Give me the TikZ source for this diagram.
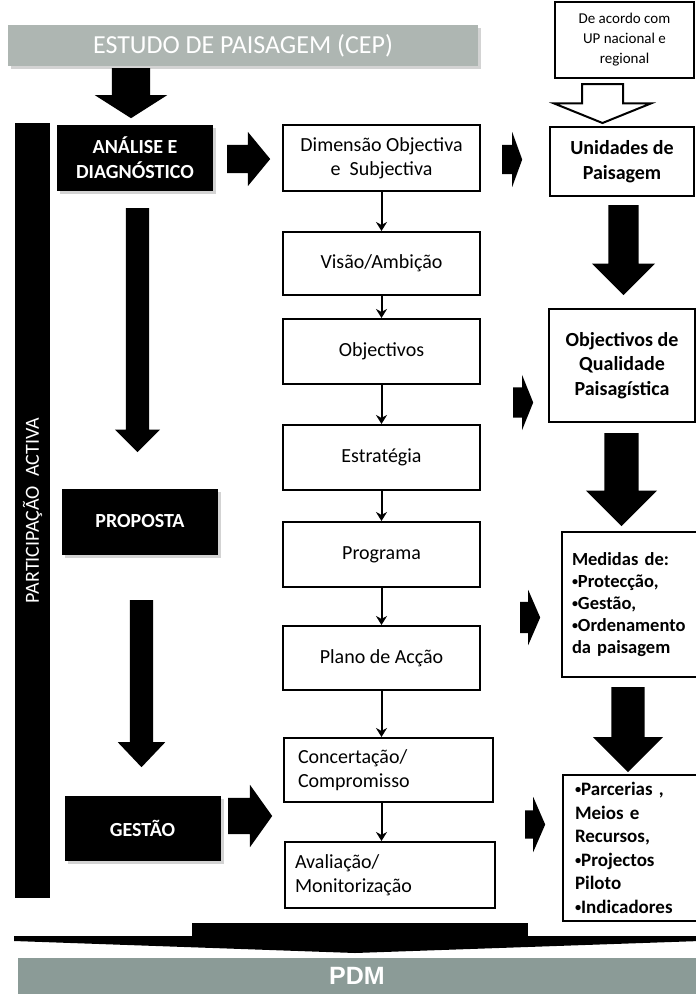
\documentclass[tikz,border=0pt]{standalone}
\usepackage{fontspec}
\setmainfont{Carlito}
\newfontfamily\pdmfont{Liberation Sans}
\usetikzlibrary{arrows.meta, positioning, shadows, shapes.arrows}
\definecolor{cepgray}{RGB}{174,182,178}
\definecolor{pdmgray}{RGB}{139,155,151}
\newcommand{\bul}{\raisebox{0.12em}{\scalebox{0.65}{•}}}

\begin{document}
\begin{tikzpicture}[
        x=1pt, y=-1pt,
        stepbox/.style={rectangle, draw=black, line width=2pt, fill=white, inner sep=0pt, align=center,
                        minimum width=197pt, font=\fontsize{20}{24}\selectfont},
        phasebox/.style={rectangle, fill=black, text=white, inner sep=0pt, align=center,
                         minimum width=156pt, minimum height=66pt, font=\bfseries\fontsize{20}{25}\selectfont,
                         drop shadow={shadow xshift=3pt, shadow yshift=-3pt, opacity=.35}},
        resultbox/.style={rectangle, draw=black, line width=2pt, fill=white, inner sep=0pt, align=center,
                          font=\bfseries\fontsize{20}{24.5}\selectfont},
        greybar/.style={rectangle, text=white, inner sep=0pt},
        blockarrow/.style 2 args={single arrow, fill=black, anchor=tail, inner xsep=0pt, inner ysep=#1,
                                  single arrow head extend=#2},
        flowarrow/.style={-{Stealth[length=9pt, width=11pt]}, line width=2pt}
    ]
        \useasboundingbox (0,0) rectangle (696,994);
        \clip (0,0) rectangle (696,994);

        % top bar and side bar
        \node [greybar, fill=cepgray, minimum width=470pt, minimum height=41pt, font=\fontsize{26}{30}\selectfont,
               drop shadow={shadow xshift=3pt, shadow yshift=-3pt, opacity=.35}] (cep) at (243,45.5) {ESTUDO DE PAISAGEM (CEP)};
        \node [fill=black, text=white, rotate=90, inner sep=0pt, minimum width=775pt, minimum height=35pt,
               font=\fontsize{20}{24}\selectfont] (partbar) at (32.5,510.5) {PARTICIPAÇÃO~ ACTIVA};
        \node [draw=black, line width=1.2pt, minimum width=139pt, minimum height=76pt, inner sep=0pt, align=center,
               font=\fontsize{15}{20}\selectfont] (upnote) at (624.5,40) {De acordo com\\UP nacional e\\regional};

        % phases
        \node [phasebox] (analise)  at (135,158)   {ANÁLISE E\\DIAGNÓSTICO};
        \node [phasebox] (proposta) at (140,521.5) {PROPOSTA};
        \node [phasebox, minimum height=65pt] (gestao) at (142.5,828) {GESTÃO};

        % steps
        \node [stepbox, minimum height=66pt] (dimensao)    at (381.5,158)   {Dimensão Objectiva\\e~ Subjectiva};
        \node [stepbox, minimum height=63pt] (visao)       at (381.5,263.5) {Visão/Ambição};
        \node [stepbox, minimum height=65pt] (objectivos)  at (381.5,351.5) {Objectivos};
        \node [stepbox, minimum height=65pt] (estrategia)  at (381.5,457.5) {Estratégia};
        \node [stepbox, minimum height=65pt] (programa)    at (381.5,554.5) {Programa};
        \node [stepbox, minimum height=64pt] (plano)       at (381.5,658)   {Plano de Acção};
        \node [stepbox, minimum width=209pt, minimum height=64pt, text width=181pt, align=left] (concertacao) at (388.5,770) {Concertação/\\Compromisso};
        \node [stepbox, minimum width=210pt, minimum height=66pt, text width=190pt, align=left] (avaliacao)   at (390,875)   {Avaliação/\\Monitorização};

        % results
        \node [resultbox, minimum width=144pt, minimum height=69pt]  (unidades)  at (622,161.5) {Unidades de\\Paisagem};
        \node [resultbox, minimum width=146pt, minimum height=113pt] (qualidade) at (622,365.5) {Objectivos de\\Qualidade\\Paisagística};
        \node [resultbox, minimum width=150pt, minimum height=145pt, text width=130pt, align=left,
               font=\bfseries\fontsize{18.5}{22}\selectfont] (medidas) at (637,604.5)
              {Medidas de:\\\bul Protecção,\\\bul Gestão,\\\bul Ordenamento\\da paisagem};
        \node [resultbox, minimum width=150pt, minimum height=146pt, text width=126pt, align=left,
               font=\bfseries\fontsize{19}{23.5}\selectfont] (parcerias) at (638,848)
              {\bul Parcerias ,\\Meios e\\Recursos,\\\bul Projectos\\Piloto\\\bul Indicadores};

        % block arrows (placed by their tails)
        \node [blockarrow={19pt}{17pt}, rotate=-90, minimum height=50pt, single arrow tip angle=115] (cepdown) at (131,68) {};
        \node [blockarrow={19.5pt}{28pt}, rotate=-90, draw=black, fill=white, line width=2pt,
               minimum height=39pt, single arrow tip angle=136] (updown) at (602.5,83) {};
        \node [blockarrow={14pt}{13pt}, minimum height=43pt, single arrow tip angle=101] (analiseright) at (227,159) {};
        \node [blockarrow={18pt}{13pt}, minimum height=44pt, single arrow tip angle=109] (gestaoright) at (228,816) {};
        \node [blockarrow={11.5pt}{11pt}, rotate=-90, minimum height=244pt, single arrow tip angle=90] (phasedown1) at (137.5,208) {};
        \node [blockarrow={11.5pt}{12pt}, rotate=-90, minimum height=167pt, single arrow tip angle=87] (phasedown2) at (141.5,600) {};
        \node [blockarrow={14.5pt}{13pt}, minimum height=20pt, single arrow tip angle=140] (toresult1) at (502,159.5) {};
        \node [blockarrow={15pt}{12.5pt}, minimum height=20pt, single arrow tip angle=136] (toresult2) at (513,402.5) {};
        \node [blockarrow={15.5pt}{12pt}, minimum height=20pt, single arrow tip angle=133] (toresult3) at (520,617.5) {};
        \node [blockarrow={14pt}{13.5pt}, minimum height=20pt, single arrow tip angle=133] (toresult4) at (525,824.5) {};
        \node [blockarrow={15pt}{16.5pt}, rotate=-90, minimum height=90pt, single arrow tip angle=90] (resultdown1) at (623.5,205) {};
        \node [blockarrow={17pt}{18.5pt}, rotate=-90, minimum height=93pt, single arrow tip angle=90] (resultdown2) at (621.5,433) {};
        \node [blockarrow={16.5pt}{18.5pt}, rotate=-90, minimum height=85pt, single arrow tip angle=90] (resultdown3) at (628,687) {};

        % flat arrow into PDM
        \fill (192,923) rectangle (528,937.5);
        \fill (14,936) -- (700,936) -- (700,941) -- (355,953) -- (14,941) -- cycle;
        \node [greybar, fill=pdmgray, minimum width=678pt, minimum height=36pt,
               font=\pdmfont\bfseries\fontsize{25}{30}\selectfont] (pdm) at (357,976) {PDM};

        \draw [flowarrow] (dimensao)   -- (visao);
        \draw [flowarrow] (visao)      -- (objectivos);
        \draw [flowarrow] (objectivos) -- (estrategia);
        \draw [flowarrow] (estrategia) -- (programa);
        \draw [flowarrow] (programa)   -- (plano);
        \draw [flowarrow] (plano.south) -- (plano.south |- concertacao.north);
        \draw [flowarrow] (plano.south |- concertacao.south) -- (plano.south |- avaliacao.north);
    \end{tikzpicture}
\end{document}
